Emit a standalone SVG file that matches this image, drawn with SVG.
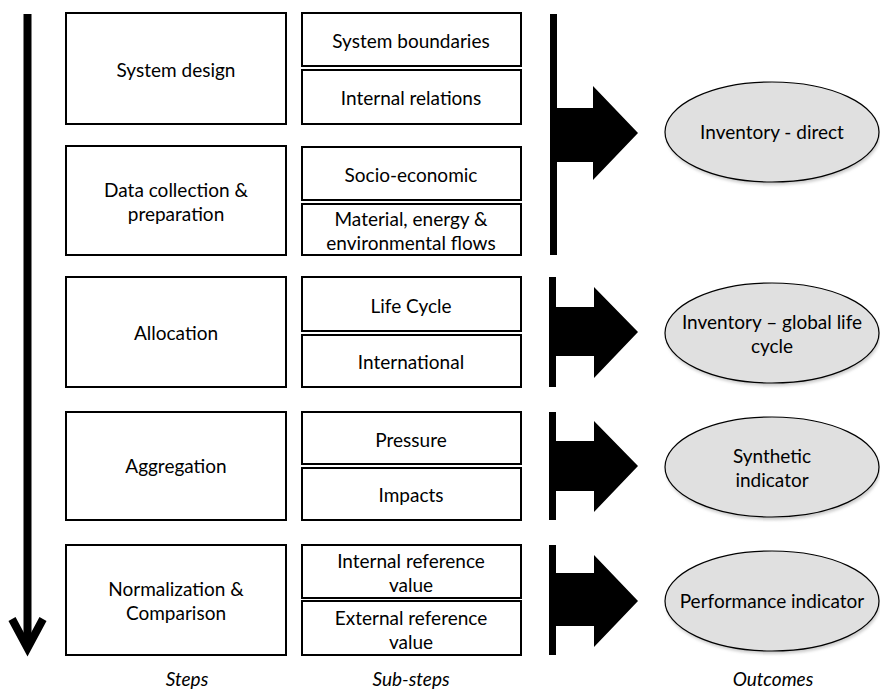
<svg xmlns="http://www.w3.org/2000/svg" width="880" height="691" viewBox="0 0 880 691">
<defs>
<style>
.box{fill:#fff;stroke:#000;stroke-width:2}
.t{font-family:Lato,"Liberation Sans",sans-serif;font-size:19px;fill:#000;text-anchor:middle}
.lbl{font-family:Lato,"Liberation Sans",sans-serif;font-size:19px;font-style:italic;fill:#000;text-anchor:middle}
.ell{fill:#e0e0e0;stroke:#000;stroke-width:1.2}
.sh{fill:#999;opacity:0.5}
.bar{fill:#000}
</style>
<filter id="blur" x="-10%" y="-10%" width="120%" height="130%"><feGaussianBlur stdDeviation="1.5"/></filter>
</defs>
<rect width="880" height="691" fill="#fff"/>

<g id="connectors">
  <g id="timeline">
    <line x1="27.5" y1="14" x2="27.5" y2="648" stroke="#000" stroke-width="8"/>
    <polyline points="12,619 27.5,648 43,619" fill="none" stroke="#000" stroke-width="8" stroke-linejoin="miter"/>
  </g>
  <g id="arrow1">
    <rect class="bar" x="550" y="14" width="7" height="241"/>
    <polygon class="bar" points="557,108 593,108 593,86 638,133 593,180 593,162 557,162"/>
  </g>
  <g id="arrow2">
    <rect class="bar" x="549" y="277" width="7" height="110"/>
    <polygon class="bar" points="556,307 594,307 594,287 638,332 594,378 594,356 556,356"/>
  </g>
  <g id="arrow3">
    <rect class="bar" x="549" y="412" width="7" height="108"/>
    <polygon class="bar" points="556,441 594,441 594,421 638,466 594,512 594,491 556,491"/>
  </g>
  <g id="arrow4">
    <rect class="bar" x="549" y="545" width="7" height="110"/>
    <polygon class="bar" points="556,573 594,573 594,555 638,601 594,647 594,626 556,626"/>
  </g>
</g>

<g id="step-system-design"><rect class="box" x="66" y="13" width="220" height="111"/><text class="t" x="176" y="77">System design</text></g>
<g id="step-data-collection"><rect class="box" x="66" y="146" width="220" height="109"/><text class="t" x="176" y="197">Data collection &amp;</text><text class="t" x="176" y="221">preparation</text></g>
<g id="step-allocation"><rect class="box" x="66" y="277" width="220" height="110"/><text class="t" x="176" y="340">Allocation</text></g>
<g id="step-aggregation"><rect class="box" x="66" y="412" width="220" height="108"/><text class="t" x="176" y="473">Aggregation</text></g>
<g id="step-normalization"><rect class="box" x="66" y="545" width="220" height="110"/><text class="t" x="176" y="596">Normalization &amp;</text><text class="t" x="176" y="620">Comparison</text></g>

<g id="sub-system-boundaries"><rect class="box" x="302" y="13" width="219" height="53"/><text class="t" x="411" y="48">System boundaries</text></g>
<g id="sub-internal-relations"><rect class="box" x="302" y="70" width="219" height="54"/><text class="t" x="411" y="105">Internal relations</text></g>
<g id="sub-socio-economic"><rect class="box" x="302" y="147" width="219" height="53"/><text class="t" x="411" y="182">Socio-economic</text></g>
<g id="sub-material"><rect class="box" x="302" y="204" width="219" height="51"/><text class="t" x="411" y="226">Material, energy &amp;</text><text class="t" x="411" y="250">environmental flows</text></g>
<g id="sub-life-cycle"><rect class="box" x="302" y="277" width="219" height="54"/><text class="t" x="411" y="313">Life Cycle</text></g>
<g id="sub-international"><rect class="box" x="302" y="335" width="219" height="52"/><text class="t" x="411" y="369">International</text></g>
<g id="sub-pressure"><rect class="box" x="302" y="412" width="219" height="52"/><text class="t" x="411" y="447">Pressure</text></g>
<g id="sub-impacts"><rect class="box" x="302" y="468" width="219" height="52"/><text class="t" x="411" y="502">Impacts</text></g>
<g id="sub-internal-ref"><rect class="box" x="302" y="545" width="219" height="53"/><text class="t" x="411" y="568">Internal reference</text><text class="t" x="411" y="592">value</text></g>
<g id="sub-external-ref"><rect class="box" x="302" y="601" width="219" height="54"/><text class="t" x="411" y="625">External reference</text><text class="t" x="411" y="649">value</text></g>

<g id="out-inventory-direct"><ellipse class="sh" cx="773" cy="135" rx="107" ry="50" filter="url(#blur)"/><ellipse class="ell" cx="772" cy="132" rx="107" ry="50"/><text class="t" x="772" y="139">Inventory - direct</text></g>
<g id="out-inventory-global"><ellipse class="sh" cx="773" cy="336" rx="107" ry="50" filter="url(#blur)"/><ellipse class="ell" cx="772" cy="333" rx="107" ry="50"/><text class="t" x="772" y="329">Inventory – global life</text><text class="t" x="772" y="353">cycle</text></g>
<g id="out-synthetic"><ellipse class="sh" cx="773" cy="470" rx="107" ry="50" filter="url(#blur)"/><ellipse class="ell" cx="772" cy="467" rx="107" ry="50"/><text class="t" x="772" y="463">Synthetic</text><text class="t" x="772" y="487">indicator</text></g>
<g id="out-performance"><ellipse class="sh" cx="773" cy="604" rx="107" ry="50" filter="url(#blur)"/><ellipse class="ell" cx="772" cy="601" rx="107" ry="50"/><text class="t" x="772" y="608">Performance indicator</text></g>

<g id="labels">
<text class="lbl" x="187" y="686">Steps</text>
<text class="lbl" x="411" y="686">Sub-steps</text>
<text class="lbl" x="773" y="686">Outcomes</text>
</g>
</svg>
